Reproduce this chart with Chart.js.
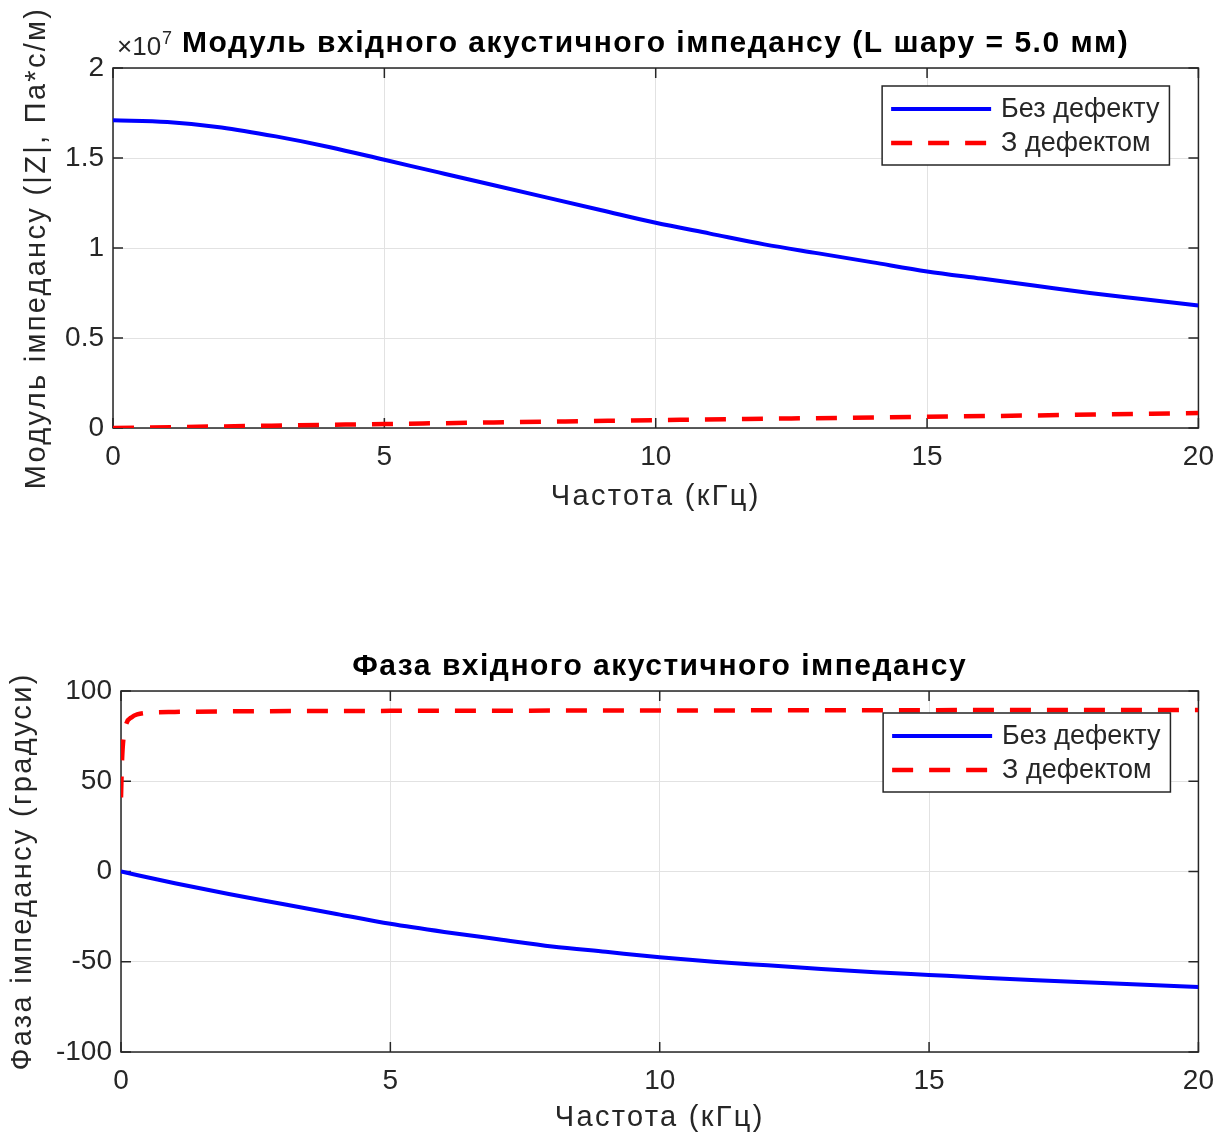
<!DOCTYPE html>
<html>
<head>
<meta charset="utf-8">
<script src="https://cdn.jsdelivr.net/npm/chart.js@4"></script>
<style>
  body { margin: 0; background: #fff; }
  #wrap { position: relative; width: 1226px; height: 1140px; }
  canvas { position: absolute; left: 0; }
</style>
</head>
<body>
<div id="wrap">
  <canvas id="modChart" width="1226" height="519" style="top:0"></canvas>
  <canvas id="phaseChart" width="1226" height="580" style="top:560px"></canvas>
</div>
<script>
// --- дані ---
const freqKHz = [0, 1, 2, 3, 4, 5, 6, 7, 8, 9, 10, 11, 12, 13, 14, 15, 16, 17, 18, 19, 20];
// модуль |Z|, у одиницях 10^7 Па*с/м
const modNoDefect = [1.71, 1.70, 1.67, 1.62, 1.56, 1.49, 1.42, 1.35, 1.28, 1.21, 1.14, 1.08, 1.02, 0.97, 0.92, 0.87, 0.83, 0.79, 0.75, 0.715, 0.68];
const modDefectFreq = [0, 2.5, 5, 7.5, 10, 12.5, 15, 17.5, 20];
const modDefect = [0.0, 0.011, 0.022, 0.033, 0.044, 0.053, 0.062, 0.072, 0.083];
// фаза, градуси
const phaseNoDefect = [0, -6.5, -12.5, -18, -23.5, -29, -33.5, -37.5, -41.5, -44.5, -47.5, -50, -52, -54, -55.8, -57.3, -58.8, -60.2, -61.5, -62.8, -64];
const phaseDefectFreq = [0, 0.02, 0.05, 0.1, 0.2, 0.3, 0.5, 1, 2, 5, 10, 15, 20];
const phaseDefect = [41, 62, 75, 82, 85.5, 87, 88, 88.4, 88.7, 89, 89.2, 89.4, 89.5];

const xTicks = [0, 5, 10, 15, 20];
const modTicks = [0, 0.5, 1, 1.5, 2];
const phaseTicks = [-100, -50, 0, 50, 100];

const seriesNames = ['Без дефекту', 'З дефектом'];
const xTitle = 'Частота (кГц)';
const FONT = '"Liberation Sans", Arial, Helvetica, sans-serif';
const TEXT = '#262626';

const pairs = (xs, ys) => xs.map((x, i) => ({ x: x, y: ys[i] }));

// рамка, внутрішні риски, підписи і легенда в стилі MATLAB
const matlabFrame = {
  id: 'matlabFrame',
  beforeDatasetsDraw(chart) {
    const { ctx, chartArea: a, scales } = chart;
    ctx.save();
    ctx.strokeStyle = TEXT;
    ctx.lineWidth = 1.5;
    ctx.strokeRect(a.left, a.top, a.right - a.left, a.bottom - a.top);
    ctx.beginPath();
    scales.x.ticks.forEach(t => {
      const px = scales.x.getPixelForValue(t.value);
      ctx.moveTo(px, a.bottom); ctx.lineTo(px, a.bottom - 10);
      ctx.moveTo(px, a.top); ctx.lineTo(px, a.top + 10);
    });
    scales.y.ticks.forEach(t => {
      const py = scales.y.getPixelForValue(t.value);
      ctx.moveTo(a.left, py); ctx.lineTo(a.left + 10, py);
      ctx.moveTo(a.right, py); ctx.lineTo(a.right - 10, py);
    });
    ctx.stroke();
    ctx.restore();
  },
  afterDraw(chart, args, opts) {
    const { ctx, chartArea: a } = chart;
    ctx.save();
    // заголовок
    ctx.fillStyle = '#000';
    ctx.font = 'bold 30px ' + FONT;
    ctx.letterSpacing = '1.5px';
    ctx.textAlign = 'center';
    ctx.textBaseline = 'middle';
    ctx.fillText(opts.title, (a.left + a.right) / 2, a.top - 24);
    // підписи осей
    ctx.fillStyle = TEXT;
    ctx.font = '29px ' + FONT;
    ctx.letterSpacing = '2.3px';
    ctx.fillText(xTitle, (a.left + a.right) / 2, chart.height - 22);
    ctx.save();
    ctx.translate(opts.yTitleX, (a.top + a.bottom) / 2);
    ctx.rotate(-Math.PI / 2);
    ctx.fillText(opts.yTitle, 0, 0);
    ctx.restore();
    ctx.letterSpacing = '0px';
    // множник осі
    if (opts.exponent) {
      ctx.textAlign = 'left';
      ctx.textBaseline = 'alphabetic';
      ctx.font = '26px ' + FONT;
      ctx.fillText('×10', a.left + 4, a.top - 13);
      const w = ctx.measureText('×10').width;
      ctx.font = '18px ' + FONT;
      ctx.fillText(opts.exponent, a.left + 5 + w, a.top - 24);
    }
    // легенда
    const ds = chart.data.datasets;
    ctx.font = '27px ' + FONT;
    const textW = Math.max(...ds.map(d => ctx.measureText(d.label).width));
    const boxW = 9 + 100 + 10 + textW + 10;
    const boxH = 79;
    const bx = a.right - opts.legendRight - boxW;
    const by = a.top + opts.legendTop;
    ctx.fillStyle = '#fff';
    ctx.fillRect(bx, by, boxW, boxH);
    ctx.strokeStyle = TEXT;
    ctx.lineWidth = 1.5;
    ctx.strokeRect(bx, by, boxW, boxH);
    ds.forEach((d, i) => {
      const ry = by + 23 + i * 34;
      ctx.beginPath();
      ctx.strokeStyle = d.borderColor;
      ctx.lineWidth = d.borderWidth;
      ctx.setLineDash(d.borderDash || []);
      ctx.moveTo(bx + 9, ry);
      ctx.lineTo(bx + 109, ry);
      ctx.stroke();
      ctx.setLineDash([]);
      ctx.fillStyle = TEXT;
      ctx.textAlign = 'left';
      ctx.textBaseline = 'middle';
      ctx.fillText(d.label, bx + 119, ry + 1);
    });
    ctx.restore();
  }
};

function fmt(v) { return String(Math.round(v * 100) / 100); }

function makeChart(id, cfg) {
  return new Chart(document.getElementById(id), {
    type: 'line',
    data: {
      datasets: [
        { label: seriesNames[0], data: cfg.blue, borderColor: '#0000ff', borderWidth: 4,
          pointRadius: 0, cubicInterpolationMode: 'monotone', fill: false },
        { label: seriesNames[1], data: cfg.red, borderColor: '#ff0000', borderWidth: 4.5,
          borderDash: [21, 16], pointRadius: 0, cubicInterpolationMode: 'monotone', fill: false }
      ]
    },
    options: {
      responsive: false,
      animation: false,
      layout: { padding: { top: cfg.padTop, right: cfg.padRight, left: 0, bottom: 0 } },
      plugins: {
        legend: { display: false },
        tooltip: { enabled: false },
        matlabFrame: { title: cfg.title, exponent: cfg.exponent, yTitle: cfg.yTitle,
                       yTitleX: cfg.yTitleX, legendTop: cfg.legendTop, legendRight: cfg.legendRight }
      },
      scales: {
        x: {
          type: 'linear', min: 0, max: 20,
          afterBuildTicks: s => { s.ticks = xTicks.map(v => ({ value: v })); },
          afterFit: s => { s.height = cfg.xHeight; },
          grid: { color: '#e2e2e2', lineWidth: 1, drawTicks: false },
          border: { display: false },
          ticks: { color: TEXT, font: { family: FONT, size: 28 }, padding: 12, callback: fmt, maxRotation: 0 }
        },
        y: {
          min: cfg.yMin, max: cfg.yMax,
          afterBuildTicks: s => { s.ticks = cfg.yTicks.map(v => ({ value: v })); },
          afterFit: s => { s.width = cfg.yWidth; },
          grid: { color: '#e2e2e2', lineWidth: 1, drawTicks: false },
          border: { display: false },
          ticks: { color: TEXT, font: { family: FONT, size: 28 }, padding: 9, callback: fmt }
        }
      }
    },
    plugins: [matlabFrame]
  });
}

makeChart('modChart', {
  blue: pairs(freqKHz, modNoDefect),
  red: pairs(modDefectFreq, modDefect),
  title: 'Модуль вхідного акустичного імпедансу (L шару = 5.0 мм)',
  exponent: '7',
  yTitle: 'Модуль імпедансу (|Z|, Па*с/м)',
  yMin: 0, yMax: 2, yTicks: modTicks,
  padTop: 68, padRight: 27, yWidth: 113, xHeight: 91, yTitleX: 37,
  legendTop: 18, legendRight: 29
});

makeChart('phaseChart', {
  blue: pairs(freqKHz, phaseNoDefect),
  red: pairs(phaseDefectFreq, phaseDefect),
  title: 'Фаза вхідного акустичного імпедансу',
  exponent: null,
  yTitle: 'Фаза імпедансу (градуси)',
  yMin: -100, yMax: 100, yTicks: phaseTicks,
  padTop: 131, padRight: 20, yWidth: 121, xHeight: 88, yTitleX: 23,
  legendTop: 22, legendRight: 28
});
</script>
</body>
</html>
